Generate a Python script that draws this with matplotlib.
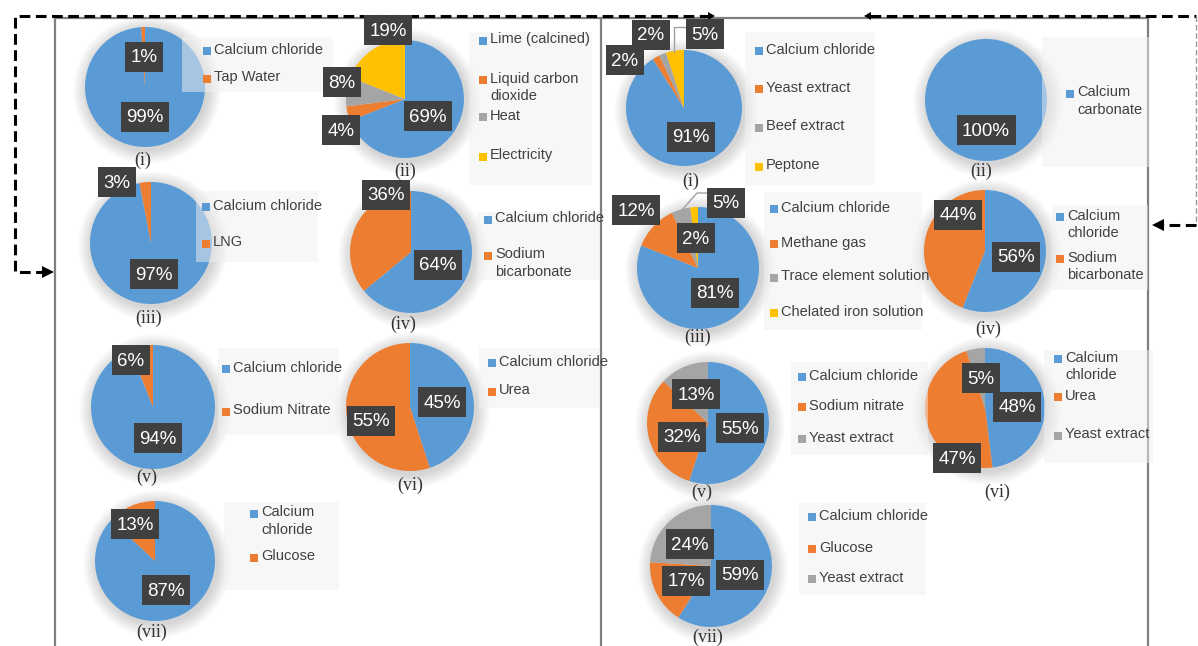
import matplotlib.pyplot as plt
from matplotlib.patches import Rectangle, Polygon, Circle

# slice values (%) and legend names, left panel
left_i_names = ["Calcium chloride", "Tap Water"]
left_i_values = [99, 1]
left_ii_names = ["Lime (calcined)", "Liquid carbon\ndioxide", "Heat", "Electricity"]
left_ii_values = [69, 4, 8, 19]
left_iii_names = ["Calcium chloride", "LNG"]
left_iii_values = [97, 3]
left_iv_names = ["Calcium chloride", "Sodium\nbicarbonate"]
left_iv_values = [64, 36]
left_v_names = ["Calcium chloride", "Sodium Nitrate"]
left_v_values = [94, 6]
left_vi_names = ["Calcium chloride", "Urea"]
left_vi_values = [45, 55]
left_vii_names = ["Calcium\nchloride", "Glucose"]
left_vii_values = [87, 13]

# right panel
right_i_names = ["Calcium chloride", "Yeast extract", "Beef extract", "Peptone"]
right_i_values = [91, 2, 2, 5]
right_ii_names = ["Calcium\ncarbonate"]
right_ii_values = [100]
right_iii_names = ["Calcium chloride", "Methane gas", "Trace element solution", "Chelated iron solution"]
right_iii_values = [81, 12, 5, 2]
right_iv_names = ["Calcium\nchloride", "Sodium\nbicarbonate"]
right_iv_values = [56, 44]
right_v_names = ["Calcium chloride", "Sodium nitrate", "Yeast extract"]
right_v_values = [55, 32, 13]
right_vi_names = ["Calcium\nchloride", "Urea", "Yeast extract"]
right_vi_values = [48, 47, 5]
right_vii_names = ["Calcium chloride", "Glucose", "Yeast extract"]
right_vii_values = [59, 17, 24]

captions = ["(i)", "(ii)", "(iii)", "(iv)", "(v)", "(vi)", "(vii)"]

colors = ["#5B9BD5", "#ED7D31", "#A5A5A5", "#FFC000"]

W, H = 1198, 646
LABEL_FONT = ["Liberation Sans", "DejaVu Sans"]
LEGEND_FONT = ["Liberation Sans", "DejaVu Sans"]
CAPTION_FONT = ["Liberation Serif", "DejaVu Serif"]

# layout in pixels: centre, radius, label spots, legend box, marker x, entry y, caption spot
pies = [
    (left_i_names, left_i_values, (145, 87), 60, [(145, 117), (144, 57)],
     (182, 37, 333, 92), 207, [51, 79], (143, 160)),
    (left_ii_names, left_ii_values, (405, 99), 59, [(428, 116), (341, 130), (342, 82), (388, 30)],
     (469, 32, 592, 185), 483, [41, 80, 117, 157], (405, 171)),
    (left_iii_names, left_iii_values, (151, 243), 61, [(154, 274), (117, 182)],
     (196, 191, 318, 262), 206, [207, 244], (149, 318)),
    (left_iv_names, left_iv_values, (411, 252), 61, [(438, 265), (386, 195)],
     (477, 212, 600, 280), 488, [220, 256], (403, 324)),
    (left_v_names, left_v_values, (153, 407), 62, [(158, 438), (131, 360)],
     (218, 348, 339, 435), 226, [369, 412], (147, 477)),
    (left_vi_names, left_vi_values, (410, 407), 64, [(442, 402), (371, 421)],
     (479, 348, 600, 408), 492, [363, 392], (410, 485)),
    (left_vii_names, left_vii_values, (155, 561), 60, [(166, 590), (135, 524)],
     (224, 502, 339, 590), 254, [514, 558], (152, 632)),
    (right_i_names, right_i_values, (684, 108), 58, [(691, 137), (625, 60), (651, 35), (705, 34)],
     (745, 32, 875, 185), 759, [51, 89, 128, 167], (691, 181)),
    (right_ii_names, right_ii_values, (986, 100), 61, [(986, 130)],
     (1042, 37, 1149, 167), 1070, [94], (981, 171)),
    (right_iii_names, right_iii_values, (698, 268), 61, [(715, 293), (636, 210), (726, 203), (696, 238)],
     (764, 192, 922, 330), 774, [209, 244, 278, 313], (698, 337)),
    (right_iv_names, right_iv_values, (985, 251), 61, [(1016, 257), (958, 215)],
     (1052, 205, 1148, 290), 1060, [217, 259], (988, 329)),
    (right_v_names, right_v_values, (708, 423), 61, [(740, 428), (682, 437), (696, 394)],
     (791, 362, 928, 455), 802, [377, 407, 439], (702, 492)),
    (right_vi_names, right_vi_values, (985, 408), 60, [(1017, 407), (957, 458), (981, 378)],
     (1044, 350, 1153, 463), 1058, [359, 397, 436], (997, 492)),
    (right_vii_names, right_vii_values, (711, 566), 61, [(740, 575), (686, 581), (690, 544)],
     (799, 503, 926, 595), 812, [517, 549, 579], (708, 637)),
]

fig = plt.figure(figsize=(W / 100, H / 100), dpi=100)

# background layer for shadows
bg = fig.add_axes([0, 0, 1, 1], zorder=0)
bg.set_xlim(0, W)
bg.set_ylim(H, 0)
bg.axis("off")

# overlay layer for frames, legends, labels
ov = fig.add_axes([0, 0, 1, 1], zorder=5)
ov.set_xlim(0, W)
ov.set_ylim(H, 0)
ov.axis("off")
ov.patch.set_alpha(0)

label_texts = []
for k, (names, values, (cx, cy), r, spots, box, mx, ys, cap) in enumerate(pies):
    # soft shadow
    for j in range(1, 15):
        bg.add_patch(Circle((cx + 2, cy + 3), r + j, color="black", alpha=0.012, lw=0))

    ax = fig.add_axes([(cx - r) / W, 1 - (cy + r) / H, 2 * r / W, 2 * r / H], zorder=1)
    ax.pie(values, colors=colors[:len(values)], startangle=90, counterclock=False,
           wedgeprops=dict(linewidth=0))
    ax.set_xlim(-1, 1)
    ax.set_ylim(-1, 1)
    ax.set_aspect("auto")

    # legend box
    x0, y0, x1, y1 = box
    ov.add_patch(Rectangle((x0, y0), x1 - x0, y1 - y0, fc="#f0f0f0", alpha=0.5, ec="none", zorder=2))
    for i, name in enumerate(names):
        ov.add_patch(Rectangle((mx - 4, ys[i] - 4), 8, 8, fc=colors[i], ec="none", zorder=3))
        ov.text(mx + 7, ys[i] - 8.5, name, ha="left", va="top", fontsize=10.5, color="#404040",
                family=LEGEND_FONT, linespacing=1.32, zorder=3)

    # data labels
    for i, v in enumerate(values):
        t = ov.text(spots[i][0], spots[i][1] + 1, f"{v}%", ha="center", va="center", fontsize=13.5,
                    color="white", family=LABEL_FONT, zorder=7)
        label_texts.append((t, spots[i]))

    ov.text(cap[0], cap[1], captions[k % 7], ha="center", va="center", fontsize=13,
            color="#333333", family=CAPTION_FONT, zorder=3)

# dark boxes behind the data labels, sized from the rendered text
fig.canvas.draw()
inv = ov.transData.inverted()
for t, (sx, sy) in label_texts:
    ext = t.get_window_extent()
    (ax0, _), (ax1, _) = inv.transform([[ext.x0, ext.y0], [ext.x1, ext.y1]])
    w = abs(ax1 - ax0) + 11
    ov.add_patch(Rectangle((sx - w / 2, sy - 15), w, 30, fc="#404040", ec="none", zorder=6))

# leader lines
ov.plot([686, 674, 674], [27, 27, 52], color="#a0a0a0", lw=1, zorder=4)
ov.plot([707, 697, 682], [193, 193, 210], color="#a0a0a0", lw=1, zorder=4)

# panel frames
frame = "#7f7f7f"
ov.plot([55, 1148], [18, 18], color=frame, lw=1.6, zorder=1)
for x in [55, 601, 1148]:
    ov.plot([x, x], [18, H], color=frame, lw=1.6, zorder=1)

# dashed flow arrows
ov.plot([710, 15, 15, 44], [16, 16, 272, 272], color="black", lw=2.2, dashes=(3.5, 1.8), zorder=4)
ov.add_patch(Polygon([(54, 272), (42, 266), (42, 278)], closed=True, fc="black", ec="none", zorder=4))
ov.add_patch(Polygon([(715, 16), (708, 12), (708, 20)], closed=True, fc="black", ec="none", zorder=4))
ov.plot([870, 1196], [16, 16], color="black", lw=2.2, dashes=(3.5, 1.8), zorder=4)
ov.plot([1196, 1196], [16, 225], color="#9a9a9a", lw=1, dashes=(4, 2), zorder=4)
ov.plot([1196, 1163], [225, 225], color="black", lw=2.2, dashes=(3.5, 1.8), zorder=4)
ov.add_patch(Polygon([(1152, 225), (1164, 219), (1164, 231)], closed=True, fc="black", ec="none", zorder=4))
ov.add_patch(Polygon([(864, 16), (871, 12), (871, 20)], closed=True, fc="black", ec="none", zorder=4))

fig.savefig("out.png", dpi=100)
